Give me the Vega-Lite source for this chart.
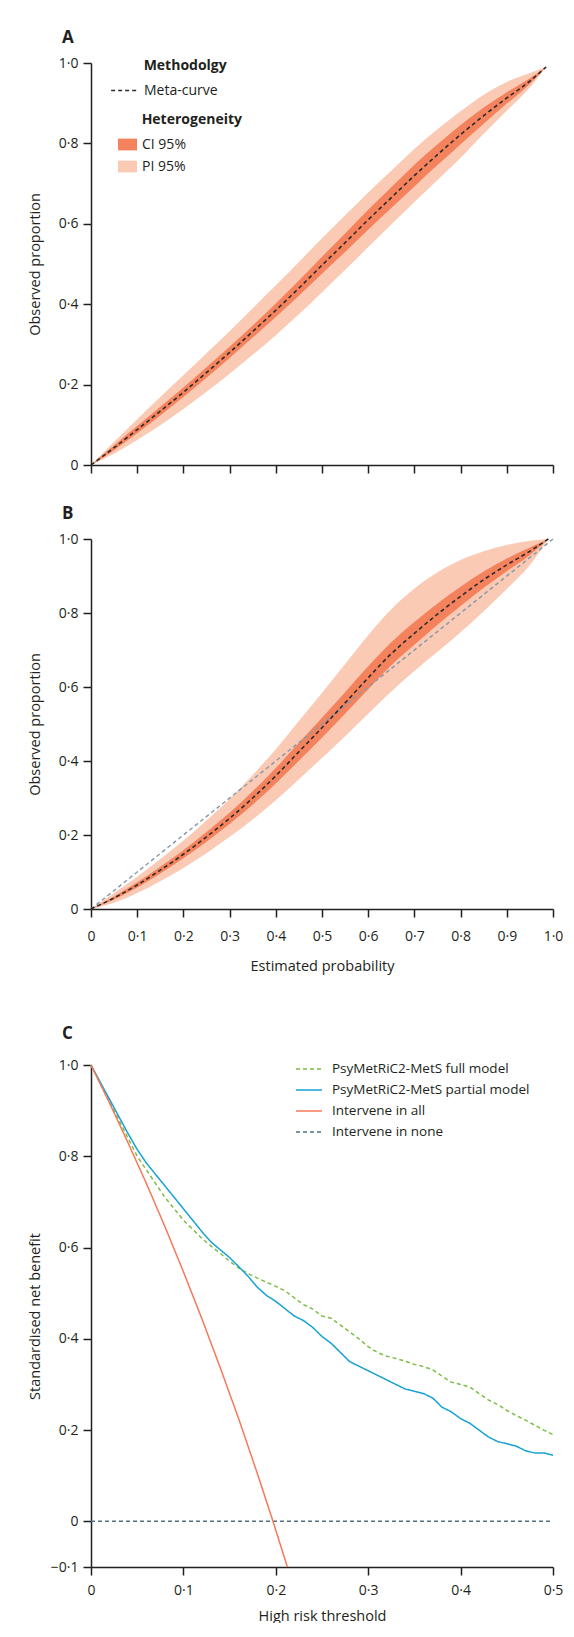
{
  "$schema": "https://vega.github.io/schema/vega-lite/v6.json",
  "background": "white",
  "padding": {"left": 27, "top": 29, "right": 0, "bottom": 0},
  "spacing": 31,
  "config": {
    "font": "Open Sans",
    "view": {"stroke": null},
    "axis": {
      "grid": false,
      "domainColor": "#231f20", "domainWidth": 1.5,
      "tickColor": "#231f20", "tickWidth": 1.5, "tickSize": 8,
      "labelFont": "Open Sans", "labelFontSize": 14, "labelColor": "#231f20",
      "titleFont": "Open Sans", "titleFontSize": 14.5, "titleFontWeight": "normal", "titleColor": "#231f20"
    },
    "axisY": {"minExtent": 36, "maxExtent": 36, "titlePadding": 13, "labelPadding": 5},
    "axisX": {"labelPadding": 12, "titlePadding": 16, "labelFlush": false},
    "title": {"fontSize": 17, "fontWeight": "bold", "anchor": "start", "frame": "group", "color": "#231f20", "font": "Open Sans", "offset": 9, "dx": -29},
    "legend": {
      "labelFont": "Open Sans", "titleFont": "Open Sans",
      "labelFontSize": 14, "titleFontSize": 14, "titleFontWeight": "bold",
      "labelColor": "#231f20", "titleColor": "#231f20", "padding": 0, "labelLimit": 0
    }
  },
  "resolve": {
    "scale": {"fill": "independent", "strokeDash": "independent", "stroke": "independent"},
    "legend": {"fill": "independent", "strokeDash": "independent", "stroke": "independent"}
  },
  "datasets": {
    "a": [
      {"x": 0, "m": 0, "cl": 0, "ch": 0, "pl": 0, "ph": 0},
      {"x": 0.05, "m": 0.043, "cl": 0.037, "ch": 0.049, "pl": 0.028, "ph": 0.058},
      {"x": 0.1, "m": 0.088, "cl": 0.079, "ch": 0.097, "pl": 0.062, "ph": 0.114},
      {"x": 0.15, "m": 0.134, "cl": 0.123, "ch": 0.145, "pl": 0.099, "ph": 0.169},
      {"x": 0.2, "m": 0.181, "cl": 0.169, "ch": 0.193, "pl": 0.139, "ph": 0.223},
      {"x": 0.25, "m": 0.23, "cl": 0.217, "ch": 0.243, "pl": 0.182, "ph": 0.278},
      {"x": 0.3, "m": 0.28, "cl": 0.266, "ch": 0.294, "pl": 0.227, "ph": 0.333},
      {"x": 0.35, "m": 0.332, "cl": 0.317, "ch": 0.347, "pl": 0.274, "ph": 0.39},
      {"x": 0.4, "m": 0.385, "cl": 0.368, "ch": 0.402, "pl": 0.323, "ph": 0.447},
      {"x": 0.45, "m": 0.44, "cl": 0.421, "ch": 0.459, "pl": 0.375, "ph": 0.505},
      {"x": 0.5, "m": 0.497, "cl": 0.476, "ch": 0.518, "pl": 0.43, "ph": 0.564},
      {"x": 0.55, "m": 0.553, "cl": 0.53, "ch": 0.576, "pl": 0.485, "ph": 0.621},
      {"x": 0.6, "m": 0.61, "cl": 0.585, "ch": 0.635, "pl": 0.542, "ph": 0.678},
      {"x": 0.65, "m": 0.665, "cl": 0.639, "ch": 0.691, "pl": 0.598, "ph": 0.732},
      {"x": 0.7, "m": 0.72, "cl": 0.693, "ch": 0.747, "pl": 0.654, "ph": 0.786},
      {"x": 0.75, "m": 0.772, "cl": 0.746, "ch": 0.798, "pl": 0.709, "ph": 0.835},
      {"x": 0.8, "m": 0.822, "cl": 0.798, "ch": 0.846, "pl": 0.764, "ph": 0.88},
      {"x": 0.85, "m": 0.869, "cl": 0.849, "ch": 0.889, "pl": 0.824, "ph": 0.921},
      {"x": 0.9, "m": 0.913, "cl": 0.899, "ch": 0.927, "pl": 0.881, "ph": 0.953},
      {"x": 0.95, "m": 0.955, "cl": 0.948, "ch": 0.962, "pl": 0.939, "ph": 0.975},
      {"x": 0.985, "m": 0.99, "cl": 0.99, "ch": 0.99, "pl": 0.99, "ph": 0.99}
    ],
    "b": [
      {"x": 0, "m": 0, "cl": 0, "ch": 0, "pl": 0, "ph": 0},
      {"x": 0.05, "m": 0.03, "cl": 0.026, "ch": 0.034, "pl": 0.017, "ph": 0.043},
      {"x": 0.1, "m": 0.065, "cl": 0.058, "ch": 0.072, "pl": 0.043, "ph": 0.087},
      {"x": 0.15, "m": 0.105, "cl": 0.096, "ch": 0.114, "pl": 0.075, "ph": 0.135},
      {"x": 0.2, "m": 0.148, "cl": 0.137, "ch": 0.159, "pl": 0.111, "ph": 0.185},
      {"x": 0.25, "m": 0.195, "cl": 0.182, "ch": 0.208, "pl": 0.151, "ph": 0.239},
      {"x": 0.3, "m": 0.245, "cl": 0.23, "ch": 0.26, "pl": 0.195, "ph": 0.297},
      {"x": 0.35, "m": 0.3, "cl": 0.282, "ch": 0.318, "pl": 0.242, "ph": 0.362},
      {"x": 0.4, "m": 0.36, "cl": 0.339, "ch": 0.381, "pl": 0.294, "ph": 0.432},
      {"x": 0.45, "m": 0.425, "cl": 0.401, "ch": 0.449, "pl": 0.351, "ph": 0.508},
      {"x": 0.5, "m": 0.49, "cl": 0.463, "ch": 0.517, "pl": 0.408, "ph": 0.584},
      {"x": 0.55, "m": 0.557, "cl": 0.528, "ch": 0.586, "pl": 0.467, "ph": 0.662},
      {"x": 0.6, "m": 0.625, "cl": 0.594, "ch": 0.656, "pl": 0.528, "ph": 0.74},
      {"x": 0.65, "m": 0.69, "cl": 0.659, "ch": 0.721, "pl": 0.588, "ph": 0.81},
      {"x": 0.7, "m": 0.745, "cl": 0.714, "ch": 0.776, "pl": 0.643, "ph": 0.866},
      {"x": 0.75, "m": 0.797, "cl": 0.768, "ch": 0.826, "pl": 0.695, "ph": 0.91},
      {"x": 0.8, "m": 0.845, "cl": 0.819, "ch": 0.871, "pl": 0.748, "ph": 0.943},
      {"x": 0.85, "m": 0.89, "cl": 0.868, "ch": 0.912, "pl": 0.805, "ph": 0.967},
      {"x": 0.9, "m": 0.93, "cl": 0.913, "ch": 0.947, "pl": 0.865, "ph": 0.984},
      {"x": 0.95, "m": 0.967, "cl": 0.957, "ch": 0.977, "pl": 0.93, "ph": 0.995},
      {"x": 0.99, "m": 1.0, "cl": 1.0, "ch": 1.0, "pl": 1.0, "ph": 1.0}
    ],
    "ident": [
      {"x": 0, "y": 0},
      {"x": 1, "y": 1}
    ],
    "c": [
      {"t": 0, "v": 0, "s": "Intervene in none"},
      {"t": 0.5, "v": 0, "s": "Intervene in none"},
      {"t": 0, "v": 1, "s": "PsyMetRiC2-MetS full model"},
      {"t": 0.02, "v": 0.92, "s": "PsyMetRiC2-MetS full model"},
      {"t": 0.04, "v": 0.84, "s": "PsyMetRiC2-MetS full model"},
      {"t": 0.05, "v": 0.8, "s": "PsyMetRiC2-MetS full model"},
      {"t": 0.06, "v": 0.77, "s": "PsyMetRiC2-MetS full model"},
      {"t": 0.07, "v": 0.74, "s": "PsyMetRiC2-MetS full model"},
      {"t": 0.08, "v": 0.71, "s": "PsyMetRiC2-MetS full model"},
      {"t": 0.09, "v": 0.685, "s": "PsyMetRiC2-MetS full model"},
      {"t": 0.1, "v": 0.66, "s": "PsyMetRiC2-MetS full model"},
      {"t": 0.11, "v": 0.64, "s": "PsyMetRiC2-MetS full model"},
      {"t": 0.12, "v": 0.62, "s": "PsyMetRiC2-MetS full model"},
      {"t": 0.13, "v": 0.603, "s": "PsyMetRiC2-MetS full model"},
      {"t": 0.14, "v": 0.587, "s": "PsyMetRiC2-MetS full model"},
      {"t": 0.15, "v": 0.57, "s": "PsyMetRiC2-MetS full model"},
      {"t": 0.16, "v": 0.555, "s": "PsyMetRiC2-MetS full model"},
      {"t": 0.17, "v": 0.543, "s": "PsyMetRiC2-MetS full model"},
      {"t": 0.18, "v": 0.533, "s": "PsyMetRiC2-MetS full model"},
      {"t": 0.19, "v": 0.524, "s": "PsyMetRiC2-MetS full model"},
      {"t": 0.2, "v": 0.515, "s": "PsyMetRiC2-MetS full model"},
      {"t": 0.21, "v": 0.505, "s": "PsyMetRiC2-MetS full model"},
      {"t": 0.22, "v": 0.49, "s": "PsyMetRiC2-MetS full model"},
      {"t": 0.23, "v": 0.475, "s": "PsyMetRiC2-MetS full model"},
      {"t": 0.24, "v": 0.465, "s": "PsyMetRiC2-MetS full model"},
      {"t": 0.25, "v": 0.45, "s": "PsyMetRiC2-MetS full model"},
      {"t": 0.26, "v": 0.445, "s": "PsyMetRiC2-MetS full model"},
      {"t": 0.27, "v": 0.43, "s": "PsyMetRiC2-MetS full model"},
      {"t": 0.28, "v": 0.415, "s": "PsyMetRiC2-MetS full model"},
      {"t": 0.29, "v": 0.4, "s": "PsyMetRiC2-MetS full model"},
      {"t": 0.3, "v": 0.383, "s": "PsyMetRiC2-MetS full model"},
      {"t": 0.31, "v": 0.37, "s": "PsyMetRiC2-MetS full model"},
      {"t": 0.32, "v": 0.362, "s": "PsyMetRiC2-MetS full model"},
      {"t": 0.33, "v": 0.357, "s": "PsyMetRiC2-MetS full model"},
      {"t": 0.34, "v": 0.351, "s": "PsyMetRiC2-MetS full model"},
      {"t": 0.35, "v": 0.344, "s": "PsyMetRiC2-MetS full model"},
      {"t": 0.36, "v": 0.339, "s": "PsyMetRiC2-MetS full model"},
      {"t": 0.37, "v": 0.332, "s": "PsyMetRiC2-MetS full model"},
      {"t": 0.38, "v": 0.318, "s": "PsyMetRiC2-MetS full model"},
      {"t": 0.39, "v": 0.305, "s": "PsyMetRiC2-MetS full model"},
      {"t": 0.4, "v": 0.3, "s": "PsyMetRiC2-MetS full model"},
      {"t": 0.41, "v": 0.294, "s": "PsyMetRiC2-MetS full model"},
      {"t": 0.42, "v": 0.28, "s": "PsyMetRiC2-MetS full model"},
      {"t": 0.43, "v": 0.266, "s": "PsyMetRiC2-MetS full model"},
      {"t": 0.44, "v": 0.256, "s": "PsyMetRiC2-MetS full model"},
      {"t": 0.45, "v": 0.243, "s": "PsyMetRiC2-MetS full model"},
      {"t": 0.46, "v": 0.232, "s": "PsyMetRiC2-MetS full model"},
      {"t": 0.47, "v": 0.222, "s": "PsyMetRiC2-MetS full model"},
      {"t": 0.48, "v": 0.211, "s": "PsyMetRiC2-MetS full model"},
      {"t": 0.49, "v": 0.2, "s": "PsyMetRiC2-MetS full model"},
      {"t": 0.5, "v": 0.19, "s": "PsyMetRiC2-MetS full model"},
      {"t": 0, "v": 1, "s": "PsyMetRiC2-MetS partial model"},
      {"t": 0.02, "v": 0.925, "s": "PsyMetRiC2-MetS partial model"},
      {"t": 0.04, "v": 0.85, "s": "PsyMetRiC2-MetS partial model"},
      {"t": 0.05, "v": 0.815, "s": "PsyMetRiC2-MetS partial model"},
      {"t": 0.06, "v": 0.785, "s": "PsyMetRiC2-MetS partial model"},
      {"t": 0.07, "v": 0.76, "s": "PsyMetRiC2-MetS partial model"},
      {"t": 0.08, "v": 0.735, "s": "PsyMetRiC2-MetS partial model"},
      {"t": 0.09, "v": 0.71, "s": "PsyMetRiC2-MetS partial model"},
      {"t": 0.1, "v": 0.685, "s": "PsyMetRiC2-MetS partial model"},
      {"t": 0.11, "v": 0.66, "s": "PsyMetRiC2-MetS partial model"},
      {"t": 0.12, "v": 0.635, "s": "PsyMetRiC2-MetS partial model"},
      {"t": 0.13, "v": 0.612, "s": "PsyMetRiC2-MetS partial model"},
      {"t": 0.14, "v": 0.595, "s": "PsyMetRiC2-MetS partial model"},
      {"t": 0.15, "v": 0.578, "s": "PsyMetRiC2-MetS partial model"},
      {"t": 0.16, "v": 0.558, "s": "PsyMetRiC2-MetS partial model"},
      {"t": 0.17, "v": 0.537, "s": "PsyMetRiC2-MetS partial model"},
      {"t": 0.18, "v": 0.513, "s": "PsyMetRiC2-MetS partial model"},
      {"t": 0.19, "v": 0.495, "s": "PsyMetRiC2-MetS partial model"},
      {"t": 0.2, "v": 0.482, "s": "PsyMetRiC2-MetS partial model"},
      {"t": 0.21, "v": 0.466, "s": "PsyMetRiC2-MetS partial model"},
      {"t": 0.22, "v": 0.45, "s": "PsyMetRiC2-MetS partial model"},
      {"t": 0.23, "v": 0.44, "s": "PsyMetRiC2-MetS partial model"},
      {"t": 0.24, "v": 0.425, "s": "PsyMetRiC2-MetS partial model"},
      {"t": 0.25, "v": 0.405, "s": "PsyMetRiC2-MetS partial model"},
      {"t": 0.26, "v": 0.39, "s": "PsyMetRiC2-MetS partial model"},
      {"t": 0.27, "v": 0.37, "s": "PsyMetRiC2-MetS partial model"},
      {"t": 0.28, "v": 0.35, "s": "PsyMetRiC2-MetS partial model"},
      {"t": 0.29, "v": 0.34, "s": "PsyMetRiC2-MetS partial model"},
      {"t": 0.3, "v": 0.33, "s": "PsyMetRiC2-MetS partial model"},
      {"t": 0.31, "v": 0.32, "s": "PsyMetRiC2-MetS partial model"},
      {"t": 0.32, "v": 0.31, "s": "PsyMetRiC2-MetS partial model"},
      {"t": 0.33, "v": 0.3, "s": "PsyMetRiC2-MetS partial model"},
      {"t": 0.34, "v": 0.29, "s": "PsyMetRiC2-MetS partial model"},
      {"t": 0.35, "v": 0.285, "s": "PsyMetRiC2-MetS partial model"},
      {"t": 0.36, "v": 0.28, "s": "PsyMetRiC2-MetS partial model"},
      {"t": 0.37, "v": 0.27, "s": "PsyMetRiC2-MetS partial model"},
      {"t": 0.38, "v": 0.25, "s": "PsyMetRiC2-MetS partial model"},
      {"t": 0.39, "v": 0.24, "s": "PsyMetRiC2-MetS partial model"},
      {"t": 0.4, "v": 0.225, "s": "PsyMetRiC2-MetS partial model"},
      {"t": 0.41, "v": 0.215, "s": "PsyMetRiC2-MetS partial model"},
      {"t": 0.42, "v": 0.2, "s": "PsyMetRiC2-MetS partial model"},
      {"t": 0.43, "v": 0.185, "s": "PsyMetRiC2-MetS partial model"},
      {"t": 0.44, "v": 0.175, "s": "PsyMetRiC2-MetS partial model"},
      {"t": 0.45, "v": 0.17, "s": "PsyMetRiC2-MetS partial model"},
      {"t": 0.46, "v": 0.165, "s": "PsyMetRiC2-MetS partial model"},
      {"t": 0.47, "v": 0.155, "s": "PsyMetRiC2-MetS partial model"},
      {"t": 0.48, "v": 0.15, "s": "PsyMetRiC2-MetS partial model"},
      {"t": 0.49, "v": 0.15, "s": "PsyMetRiC2-MetS partial model"},
      {"t": 0.5, "v": 0.145, "s": "PsyMetRiC2-MetS partial model"},
      {"t": 0, "v": 1, "s": "Intervene in all"},
      {"t": 0.02, "v": 0.917, "s": "Intervene in all"},
      {"t": 0.04, "v": 0.83, "s": "Intervene in all"},
      {"t": 0.06, "v": 0.74, "s": "Intervene in all"},
      {"t": 0.08, "v": 0.646, "s": "Intervene in all"},
      {"t": 0.1, "v": 0.547, "s": "Intervene in all"},
      {"t": 0.12, "v": 0.444, "s": "Intervene in all"},
      {"t": 0.14, "v": 0.336, "s": "Intervene in all"},
      {"t": 0.16, "v": 0.224, "s": "Intervene in all"},
      {"t": 0.18, "v": 0.105, "s": "Intervene in all"},
      {"t": 0.197, "v": 0, "s": "Intervene in all"},
      {"t": 0.2125, "v": -0.1, "s": "Intervene in all"}
    ]
  },
  "vconcat": [
    {
      "title": {"text": "A"},
      "width": 462,
      "height": 402,
      "data": {"name": "a"},
      "encoding": {
        "x": {"field": "x", "type": "quantitative", "scale": {"domain": [0, 1], "nice": false},
          "axis": {"values": [0, 0.1, 0.2, 0.3, 0.4, 0.5, 0.6, 0.7, 0.8, 0.9, 1], "labels": false, "title": null}}
      },
      "layer": [
        {
          "mark": {"type": "area", "opacity": 1, "interpolate": "monotone"},
          "encoding": {
            "y": {"field": "pl", "type": "quantitative", "scale": {"domain": [0, 1], "nice": false},
              "axis": {"values": [0, 0.2, 0.4, 0.6, 0.8, 1], "title": "Observed proportion",
                "labelExpr": "datum.value == 0 ? '0' : replace(format(datum.value, '.1f'), '.', '·')"}},
            "y2": {"field": "ph"},
            "fill": {"datum": "PI 95%", "type": "nominal",
              "scale": {"domain": ["CI 95%", "PI 95%"], "range": ["#f4825d", "#fbcab4"]},
              "legend": {"title": "\u2800\u00a0\u2800Heterogeneity", "orient": "none", "legendX": 27, "legendY": 50,
                "symbolType": "M-1,-0.62L1,-0.62L1,0.62L-1,0.62Z", "symbolSize": 361, "symbolStrokeWidth": 0,
                "labelOffset": 5, "rowPadding": 5, "titlePadding": 8}}
          }
        },
        {
          "mark": {"type": "area", "opacity": 1, "interpolate": "monotone"},
          "encoding": {
            "y": {"field": "cl", "type": "quantitative"},
            "y2": {"field": "ch"},
            "fill": {"datum": "CI 95%", "type": "nominal"}
          }
        },
        {
          "mark": {"type": "line", "color": "#2b2b2b", "strokeWidth": 1.6, "interpolate": "monotone"},
          "encoding": {
            "y": {"field": "m", "type": "quantitative"},
            "strokeDash": {"datum": "Meta-curve", "type": "nominal",
              "scale": {"domain": ["Meta-curve"], "range": [[4, 3]]},
              "legend": {"title": "\u2800\u2800\u00a0\u2800Methodolgy", "orient": "none", "legendX": 19, "legendY": -4,
                "symbolType": "stroke", "symbolSize": 713, "symbolStrokeColor": "#2b2b2b", "symbolStrokeWidth": 1.5,
                "labelOffset": 5, "titlePadding": 3}}
          }
        }
      ]
    },
    {
      "title": {"text": "B"},
      "width": 462,
      "height": 370,
      "layer": [
        {
          "data": {"name": "b"},
          "mark": {"type": "area", "color": "#fbcab4", "opacity": 1, "interpolate": "monotone"},
          "encoding": {
            "x": {"field": "x", "type": "quantitative", "scale": {"domain": [0, 1], "nice": false},
              "axis": {"values": [0, 0.1, 0.2, 0.3, 0.4, 0.5, 0.6, 0.7, 0.8, 0.9, 1], "title": "Estimated probability",
                "labelExpr": "datum.value == 0 ? '0' : replace(format(datum.value, '.1f'), '.', '·')"}},
            "y": {"field": "pl", "type": "quantitative", "scale": {"domain": [0, 1], "nice": false},
              "axis": {"values": [0, 0.2, 0.4, 0.6, 0.8, 1], "title": "Observed proportion",
                "labelExpr": "datum.value == 0 ? '0' : replace(format(datum.value, '.1f'), '.', '·')"}},
            "y2": {"field": "ph"}
          }
        },
        {
          "data": {"name": "b"},
          "mark": {"type": "area", "color": "#f4825d", "opacity": 1, "interpolate": "monotone"},
          "encoding": {
            "x": {"field": "x", "type": "quantitative"},
            "y": {"field": "cl", "type": "quantitative"},
            "y2": {"field": "ch"}
          }
        },
        {
          "data": {"name": "ident"},
          "mark": {"type": "line", "color": "#8a9bab", "strokeWidth": 1.5, "strokeDash": [4, 3]},
          "encoding": {
            "x": {"field": "x", "type": "quantitative"},
            "y": {"field": "y", "type": "quantitative"}
          }
        },
        {
          "data": {"name": "b"},
          "mark": {"type": "line", "color": "#2b2b2b", "strokeWidth": 1.6, "strokeDash": [4, 3], "interpolate": "monotone"},
          "encoding": {
            "x": {"field": "x", "type": "quantitative"},
            "y": {"field": "m", "type": "quantitative"}
          }
        }
      ]
    },
    {
      "title": {"text": ["", "C"], "lineHeight": 21, "offset": 12},
      "width": 462,
      "height": 502,
      "data": {"name": "c"},
      "mark": {"type": "line", "strokeWidth": 1.5},
      "encoding": {
        "x": {"field": "t", "type": "quantitative", "scale": {"domain": [0, 0.5], "nice": false},
          "axis": {"values": [0, 0.1, 0.2, 0.3, 0.4, 0.5], "title": "High risk threshold", "labelPadding": 8, "titlePadding": 12,
            "labelExpr": "datum.value == 0 ? '0' : replace(format(datum.value, '.1f'), '.', '·')"}},
        "y": {"field": "v", "type": "quantitative", "scale": {"domain": [-0.1, 1], "nice": false},
          "axis": {"values": [-0.1, 0, 0.2, 0.4, 0.6, 0.8, 1], "title": "Standardised net benefit",
            "labelExpr": "datum.value == 0 ? '0' : replace(format(datum.value, '.1f'), '.', '·')"}},
        "stroke": {"field": "s", "type": "nominal",
          "scale": {"domain": ["PsyMetRiC2-MetS full model", "PsyMetRiC2-MetS partial model", "Intervene in all", "Intervene in none"],
            "range": ["#7dbd45", "#17a2d6", "#f47a58", "#50727f"]},
          "legend": {"title": null, "orient": "none", "legendX": 204, "legendY": -10, "labelFontSize": 13.5,
            "symbolType": "stroke", "symbolSize": 676, "symbolStrokeWidth": 1.5, "labelOffset": 9, "rowPadding": 0}},
        "strokeDash": {"field": "s", "type": "nominal",
          "scale": {"domain": ["PsyMetRiC2-MetS full model", "PsyMetRiC2-MetS partial model", "Intervene in all", "Intervene in none"],
            "range": [[4, 3], [1, 0], [1, 0], [4, 3]]},
          "legend": {"title": null, "orient": "none", "legendX": 204, "legendY": -10, "labelFontSize": 13.5,
            "symbolType": "stroke", "symbolSize": 676, "symbolStrokeWidth": 1.5, "labelOffset": 9, "rowPadding": 0}},
        "order": {"field": "t", "type": "quantitative"}
      }
    }
  ]
}
